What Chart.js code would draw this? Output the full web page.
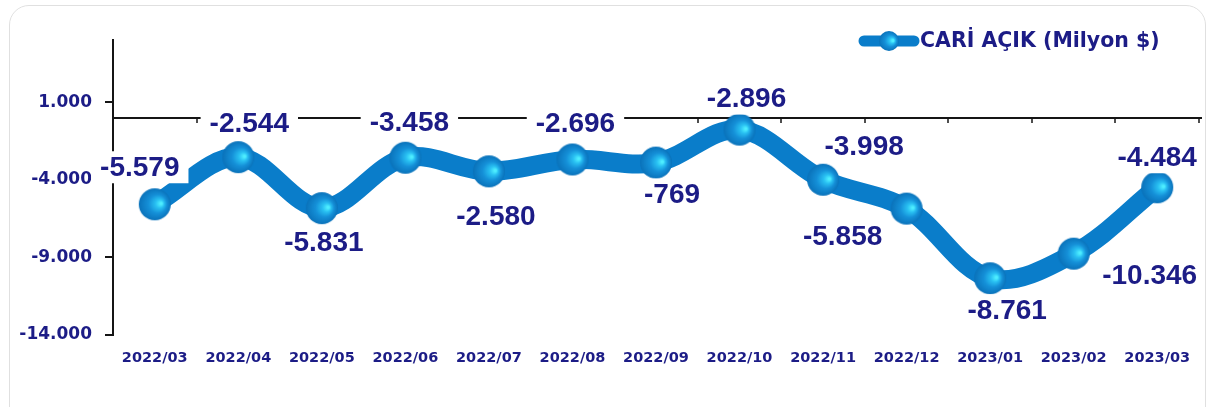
<!DOCTYPE html>
<html>
<head>
<meta charset="utf-8">
<script src="https://cdn.jsdelivr.net/npm/chart.js@4.4.1/dist/chart.umd.min.js"></script>
<style>
html,body{margin:0;padding:0;background:#fff;width:1209px;height:407px;overflow:hidden;}
#card{position:absolute;left:9px;top:5px;width:1197px;height:440px;border:1.5px solid #e0e0e0;border-radius:20px;box-sizing:border-box;background:transparent;pointer-events:none;z-index:2;}
#wrap{position:absolute;left:0;top:0;width:1209px;height:407px;overflow:hidden;z-index:1;}
canvas{position:absolute;left:0;top:0;}
</style>
</head>
<body>
<div id="wrap"><canvas id="c" width="1234" height="407"></canvas></div>
<div id="card"></div>
<script>
// ---- data ----
const categories = ['2022/03','2022/04','2022/05','2022/06','2022/07','2022/08','2022/09','2022/10','2022/11','2022/12','2023/01','2023/02','2023/03'];
const deficitValues = [-5579,-2544,-5831,-2580,-3458,-2696,-2896,-769,-3998,-5858,-10346,-8761,-4484];
// value labels as they appear next to each category in the picture
const shownLabelValues = [-5579,-2544,-5831,-3458,-2580,-2696,-769,-2896,-3998,-5858,-8761,-10346,-4484];
const yTickValues = [1000,-4000,-9000,-14000];
const seriesName = 'CARİ AÇIK (Milyon $)';

const NAVY = '#1c1c86';
const LINE = '#0a7dca';
const FONT = '"Liberation Sans", Arial, Helvetica, sans-serif';
const WIDE = '"DejaVu Sans", Verdana, sans-serif';

function fmt(v){
  const s = Math.abs(v).toString().replace(/\B(?=(\d{3})+(?!\d))/g,'.');
  return (v<0?'-':'') + s;
}

function makeBall(r){
  const s = Math.ceil(r*2+2);
  const cv = document.createElement('canvas');
  cv.width = s; cv.height = s;
  const g = cv.getContext('2d');
  const c = s/2;
  const grad = g.createRadialGradient(c + r*0.4, c - r*0.05, 1, c, c, r);
  grad.addColorStop(0, '#4eeeff');
  grad.addColorStop(0.22, '#29c0f2');
  grad.addColorStop(0.55, '#1590d8');
  grad.addColorStop(1, '#0a72ba');
  g.fillStyle = grad;
  g.beginPath(); g.arc(c, c, r, 0, Math.PI*2); g.fill();
  return cv;
}
const ball = makeBall(16);
const legendBall = makeBall(10);

// label placement (pixel offsets from each point)
const labelOffsets = [[-15,-37],[11,-34],[2,34],[4,-35],[7,45],[3,-36],[16,32],[7,-31],[41,-33],[-64,28],[17,32],[76,22],[0,-30]];

const zeroLinePlugin = {
  id: 'zeroLine',
  beforeDatasetsDraw(chart){
    const {ctx, chartArea, scales} = chart;
    const y = Math.round(scales.y.getPixelForValue(0));
    ctx.save();
    ctx.strokeStyle = '#151515';
    ctx.lineWidth = 2;
    ctx.beginPath();
    ctx.moveTo(chartArea.left, y);
    ctx.lineTo(chartArea.right + 3, y);
    ctx.stroke();
    const n = categories.length;
    const step = (chartArea.right - chartArea.left) / n;
    ctx.lineWidth = 1.5;
    for (let k = 1; k <= n; k++){
      const x = Math.round(chartArea.left + step*k);
      ctx.beginPath();
      ctx.moveTo(x, y);
      ctx.lineTo(x, y + 5);
      ctx.stroke();
    }
    ctx.restore();
  }
};

const labelPlugin = {
  id: 'valueLabels',
  afterDatasetsDraw(chart){
    const {ctx} = chart;
    const meta = chart.getDatasetMeta(0);
    ctx.save();
    ctx.font = 'bold 28px ' + FONT;
    ctx.textAlign = 'center';
    ctx.textBaseline = 'middle';
    meta.data.forEach((pt, i) => {
      const txt = fmt(shownLabelValues[i]);
      const x = pt.x + labelOffsets[i][0];
      const y = pt.y + labelOffsets[i][1];
      const w = ctx.measureText(txt).width;
      ctx.fillStyle = '#ffffff';
      ctx.fillRect(x - w/2 - 9, y - 16, w + 18, 32);
      ctx.fillStyle = NAVY;
      ctx.fillText(txt, x, y + 1);
    });
    ctx.restore();
  }
};

const legendPlugin = {
  id: 'customLegend',
  afterDraw(chart){
    const {ctx} = chart;
    const y = 41;
    ctx.save();
    ctx.strokeStyle = LINE;
    ctx.lineWidth = 11;
    ctx.lineCap = 'round';
    ctx.beginPath();
    ctx.moveTo(864, y);
    ctx.lineTo(914, y);
    ctx.stroke();
    ctx.drawImage(legendBall, 889 - legendBall.width/2, y - legendBall.height/2);
    ctx.font = 'bold 20.5px ' + WIDE;
    ctx.fillStyle = NAVY;
    ctx.textAlign = 'left';
    ctx.textBaseline = 'middle';
    ctx.fillText(chart.data.datasets[0].label, 920, y + 1);
    ctx.restore();
  }
};

new Chart(document.getElementById('c'), {
  type: 'line',
  data: {
    labels: categories,
    datasets: [{
      label: seriesName,
      data: deficitValues,
      borderColor: LINE,
      borderWidth: 19,
      tension: 0.35,
      pointStyle: ball,
      pointRadius: 16,
      pointHoverRadius: 16,
      fill: false,
      clip: false
    }]
  },
  options: {
    responsive: false,
    animation: false,
    devicePixelRatio: 1,
    layout: { padding: { left: 0, right: 7, top: 40, bottom: 0 } },
    plugins: { legend: { display: false }, tooltip: { enabled: false } },
    scales: {
      x: {
        type: 'category',
        offset: true,
        grid: { display: false },
        border: { display: false },
        ticks: { color: NAVY, font: { family: WIDE, size: 14.5, weight: 'bold' }, padding: 7, maxRotation: 0, autoSkip: false },
        afterFit(scale){ scale.height = 72; scale.paddingLeft = 0; scale.paddingRight = 0; }
      },
      y: {
        min: -14000,
        max: 5000,
        afterBuildTicks(scale){ scale.ticks = yTickValues.map(v => ({ value: v })); },
        grid: { drawOnChartArea: false, drawTicks: true, tickLength: 8, color: '#151515', lineWidth: 2 },
        border: { display: true, color: '#151515', width: 2 },
        ticks: { color: NAVY, font: { family: WIDE, size: 17, weight: 'bold' }, padding: 13, callback: v => fmt(v) },
        afterFit(scale){ scale.width = 113; }
      }
    }
  },
  plugins: [zeroLinePlugin, labelPlugin, legendPlugin]
});
</script>
</body>
</html>
